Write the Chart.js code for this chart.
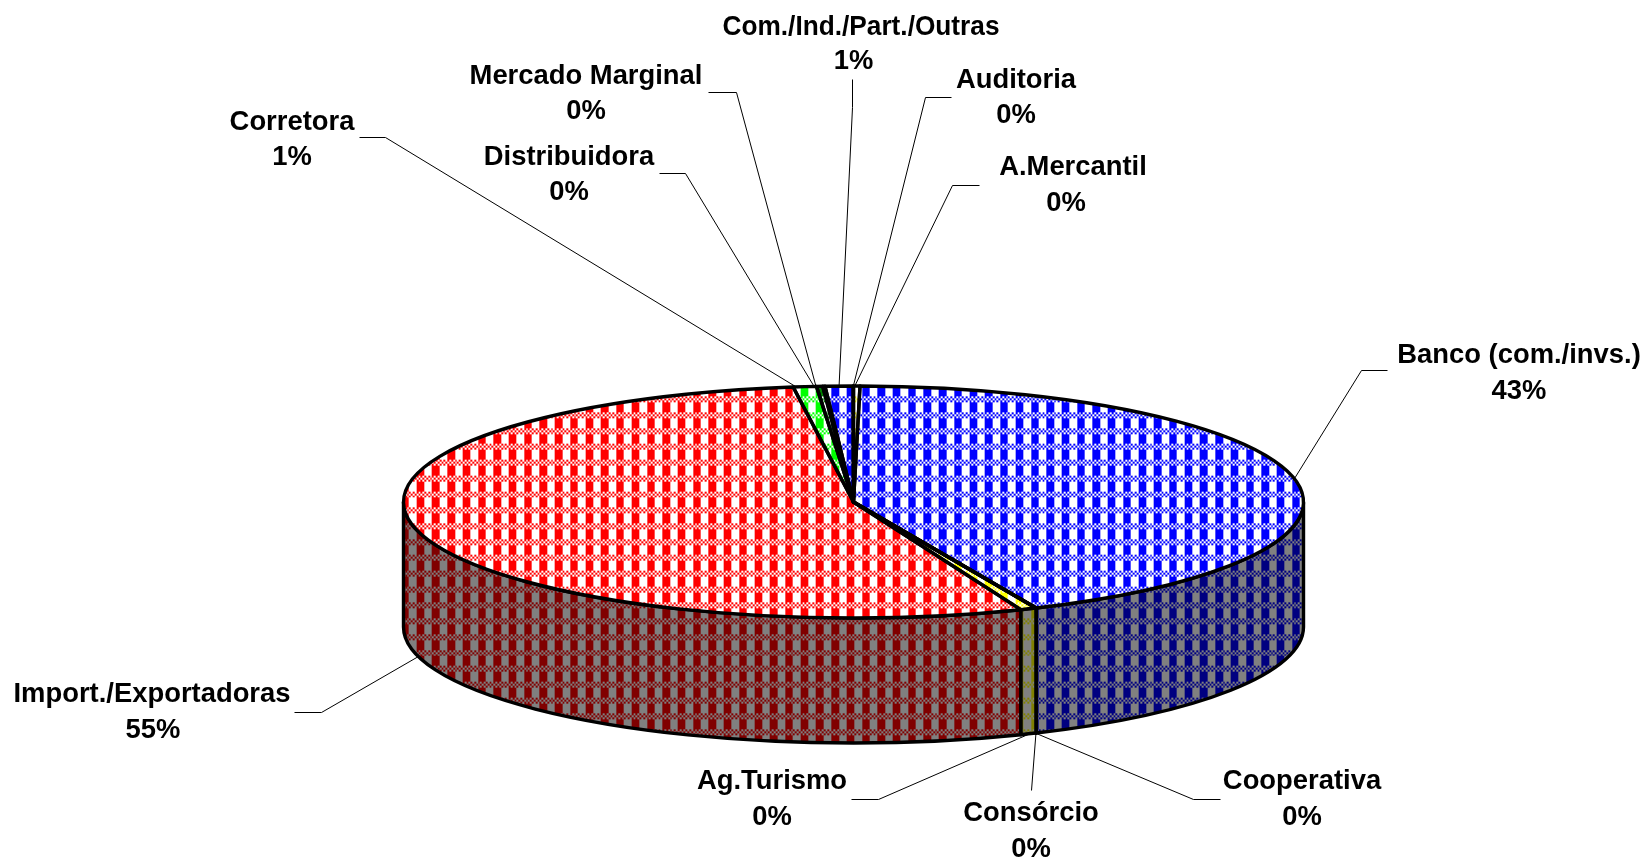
<!DOCTYPE html>
<html><head><meta charset="utf-8">
<style>html,body{margin:0;padding:0;background:#fff;overflow:hidden}canvas{display:block}</style>
<script src="https://cdn.jsdelivr.net/npm/chart.js@4"></script>
</head><body>
<div style="position:relative;width:1648px;height:859px"><canvas id="c" width="1648" height="859"></canvas></div>
<script>
// ---- data, clockwise from 12 o'clock
const categories = ['A.Mercantil','Banco (com./invs.)','Cooperativa','Consórcio','Ag.Turismo','Import./Exportadoras','Corretora','Distribuidora','Mercado Marginal','Com./Ind./Part./Outras','Auditoria'];
const sliceValues = [0.23,43.1,0.005,0.005,0.58,53.9,0.83,0.22,0.08,1.0,0.01];
const percentLabels = ['0%','43%','0%','0%','0%','55%','1%','0%','0%','1%','0%'];
const sliceColors = ['#ffff00','#0000ff','#ffff00','#ffff00','#ffff00','#ff0000','#00ff00','#008000','#ffffff','#0000ff','#ffff00'];
// ---- layout of the labels: text centres, leader elbow and end, nudge of the anchor (deg)
const labelCentres = [[1073,167],[1519,355],[1302,781],[1031,813],[772,781],[152,694],[292,122],[569,157],[586,76],[861,27],[1016,80]];
const percentCentres = [[1066,203],[1519,391],[1302,817],[1031,849],[772,817],[153,730],[292,157],[569,192],[586,111],[853.5,61],[1016,115]];
const leaderElbows = [[[952,185],[979,185]],[[1361,370],[1387,370]],[[1193,799],[1220,799]],[[1031,790]],[[878,799],[851,799]],[[321,712],[294,712]],[[385,137],[359,137]],[[685,173],[659,173]],[[736,92],[708,92]],[[852,107],[852,79]],[[925,97],[951,97]]];
const anchorNudge = [-0.25,0,0.1,0,-0.2,0,-1.1,-0.7,-1.0,0,0];
const labelMaxWidth = 277;
// ---- pie geometry
const RX = 450, RY = 116, DEPTH = 125, LINE = 3.4;
// ---- plaid hatch tile with the reference's non-integer period, softened like a resampled bitmap
const PX = 15.36, PY = 15.85, TW = 384, TH = 317, X0 = 1.9, Y0 = 0.2, SOFT = 1.5;
function rgb(hex,f){const n=parseInt(hex.slice(1),16);return [(n>>16&255)*f,(n>>8&255)*f,(n&255)*f];}
const tileCache = {};
function tile(hex,f){
  const key = hex+f; if(tileCache[key]) return tileCache[key];
  const cv = document.createElement('canvas'); cv.width=TW; cv.height=TH;
  const g = cv.getContext('2d'), im = g.createImageData(TW,TH);
  const fg = rgb(hex,f), bg = [255*f,255*f,255*f];
  const SS=3;
  for(let y=0;y<TH;y++)for(let x=0;x<TW;x++){
    let a=0;
    for(let sy=0;sy<SS;sy++)for(let sx=0;sx<SS;sx++){
      const u=(x+.5+((sx+.5)/SS-.5)*SOFT-X0+TW)/(PX/8), v=(y+.5+((sy+.5)/SS-.5)*SOFT-Y0+TH)/(PY/8);
      const i=Math.floor(u)%8, j=Math.floor(v)%8;
      a += (j<3 ? (i+j)%2===0 : i<4) ? 1:0;
    }
    a/=SS*SS;
    const p=(y*TW+x)*4;
    for(let c=0;c<3;c++) im.data[p+c]=fg[c]*a+bg[c]*(1-a);
    im.data[p+3]=255;
  }
  g.putImageData(im,0,0);
  return tileCache[key]=cv;
}
const ctx0 = document.getElementById('c').getContext('2d');
const topPatterns = sliceColors.map(c=>ctx0.createPattern(tile(c,1),'repeat'));
const wallPatterns = sliceColors.map(c=>ctx0.createPattern(tile(c,0.502),'repeat'));

const pie3d = {
  id:'pie3d',
  beforeDatasetsDraw(chart){
    const ctx=chart.ctx, arcs=chart.getDatasetMeta(0).data;
    const {x:cx,y:cy}=arcs[0];
    ctx.save();
    ctx.lineWidth=LINE; ctx.strokeStyle='#000'; ctx.lineJoin='round';
    arcs.forEach((el,i)=>{
      const a0=Math.max(el.startAngle,0), a1=Math.min(el.endAngle,Math.PI);
      if(a1<=a0) return;
      ctx.beginPath();
      ctx.ellipse(cx,cy,RX,RY,0,a0,a1);
      ctx.ellipse(cx,cy+DEPTH,RX,RY,0,a1,a0,true);
      ctx.closePath();
      ctx.fillStyle=wallPatterns[i]; ctx.fill(); ctx.stroke();
    });
    ctx.restore();
    ctx.save();
    const m=new DOMMatrix().translate(0,cy).scale(1,RY/RX).translate(0,-cy);
    topPatterns.forEach(p=>p.setTransform(m.inverse()));
    ctx.translate(0,cy); ctx.scale(1,RY/RX); ctx.translate(0,-cy);
  },
  afterDatasetsDraw(chart){
    const ctx=chart.ctx, arcs=chart.getDatasetMeta(0).data;
    ctx.restore();
    const {x:cx,y:cy}=arcs[0];
    ctx.save();
    ctx.lineWidth=LINE; ctx.strokeStyle='#000'; ctx.lineJoin='round';
    arcs.forEach(el=>{
      ctx.beginPath();
      ctx.moveTo(cx,cy);
      ctx.ellipse(cx,cy,RX,RY,0,el.startAngle,el.endAngle);
      ctx.closePath();
      ctx.stroke();
    });
    ctx.lineWidth=1;
    arcs.forEach((el,i)=>{
      const a=(el.startAngle+el.endAngle)/2+anchorNudge[i]*Math.PI/180;
      const ax=cx+RX*Math.cos(a);
      let ay=cy+RY*Math.sin(a);
      if(Math.sin(a)>0||Math.cos(a)<-0.9) ay+=DEPTH;
      ctx.beginPath(); ctx.moveTo(ax,ay);
      leaderElbows[i].forEach(p=>ctx.lineTo(p[0]+.5,p[1]+.5));
      ctx.stroke();
    });
    ctx.fillStyle='#000'; ctx.font='bold 27.4px "Liberation Sans"';
    ctx.textAlign='center'; ctx.textBaseline='middle';
    categories.forEach((c,i)=>{
      ctx.fillText(c,labelCentres[i][0],labelCentres[i][1],labelMaxWidth);
      ctx.fillText(percentLabels[i],percentCentres[i][0],percentCentres[i][1]);
    });
    ctx.restore();
  }
};

new Chart(document.getElementById('c'),{
  type:'pie',
  data:{labels:categories,datasets:[{data:sliceValues,backgroundColor:topPatterns,borderWidth:0,clip:false}]},
  options:{
    responsive:false,animation:false,radius:RX,
    layout:{padding:{left:59,top:145}},
    plugins:{legend:{display:false},tooltip:{enabled:false},title:{display:false}}
  },
  plugins:[pie3d]
});
</script>
</body></html>
